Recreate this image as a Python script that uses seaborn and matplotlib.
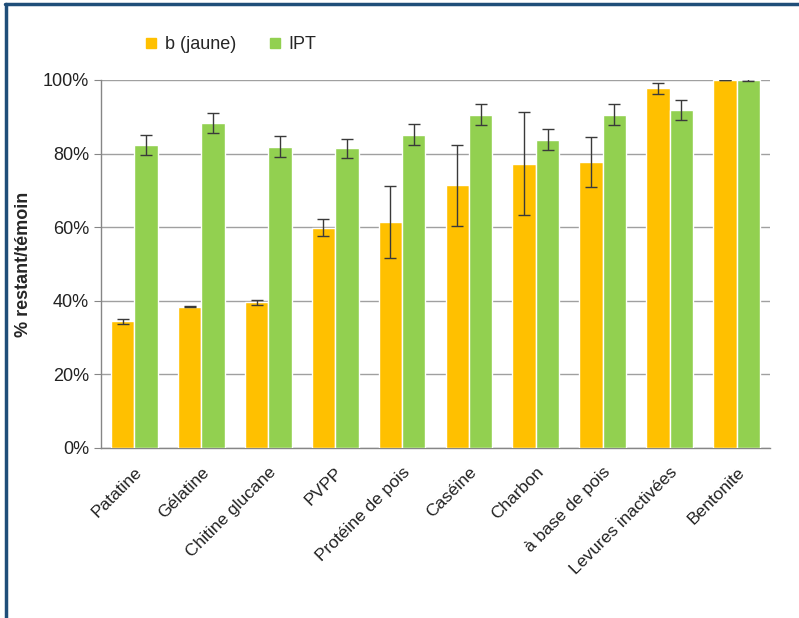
import numpy as np
import pandas as pd
import matplotlib
matplotlib.use("Agg")
import matplotlib.pyplot as plt
import seaborn as sns
from matplotlib.lines import Line2D

# données (% restant / témoin)
produits = ["Patatine", "Gélatine", "Chitine glucane", "PVPP", "Protéine de pois",
            "Caséine", "Charbon", "à base de pois", "Levures inactivées", "Bentonite"]
b_jaune = [34.4, 38.4, 39.6, 59.9, 61.3, 71.4, 77.3, 77.8, 97.7, 100.0]
b_jaune_err = [0.7, 0.2, 0.7, 2.3, 9.8, 11.0, 14.1, 6.8, 1.6, 0.0]
ipt = [82.3, 88.3, 81.9, 81.4, 85.1, 90.6, 83.8, 90.6, 91.8, 100.0]
ipt_err = [2.8, 2.8, 2.8, 2.6, 2.8, 2.8, 2.8, 2.8, 2.8, 0.3]
series = ["b (jaune)", "IPT"]
couleurs = ["#FFC000", "#92D050"]

df = pd.DataFrame({
    "produit": produits * 2,
    "serie": [series[0]] * len(produits) + [series[1]] * len(produits),
    "valeur": b_jaune + ipt,
})

sns.set_style("white")
plt.rcParams["font.family"] = ["Liberation Sans", "DejaVu Sans"]

fig = plt.figure(figsize=(7.99, 6.18), dpi=100)
ax = fig.add_axes([0.1264, 0.2751, 0.8373, 0.5955])

sns.barplot(data=df, x="produit", y="valeur", hue="serie", palette=couleurs,
            saturation=1, width=0.7, errorbar=None, edgecolor="white",
            linewidth=1, ax=ax, legend=False, zorder=3)

# barres d'erreur
for cont, err in zip(ax.containers, [b_jaune_err, ipt_err]):
    xs = [p.get_x() + p.get_width() / 2 for p in cont.patches]
    hs = [p.get_height() for p in cont.patches]
    ax.errorbar(xs, hs, yerr=err, fmt="none", ecolor="#3a3a3a",
                elinewidth=1, capsize=4, capthick=1, zorder=4)

ax.set_ylim(0, 100)
ax.set_xlim(-0.5, len(produits) - 0.5)
ax.set_yticks(np.arange(0, 101, 20))
ax.set_yticklabels([f"{v}%" for v in range(0, 101, 20)], fontsize=13, color="#222222")
ax.yaxis.grid(True, color="#a0a0a0", linewidth=1)
ax.set_axisbelow(True)

ax.set_xticks(range(len(produits)))
ax.set_xticklabels(produits, rotation=45, ha="right", rotation_mode="anchor",
                   fontsize=12.5, color="#222222")
ax.set_xticks(np.arange(-0.5, len(produits)), minor=True)
ax.tick_params(axis="x", which="major", length=0, pad=12)
ax.tick_params(axis="x", which="minor", length=5, color="#868686", direction="out")
ax.tick_params(axis="y", length=5, color="#868686", direction="out", left=True)

ax.set_xlabel("")
ax.set_ylabel("% restant/témoin", fontsize=13, fontweight="bold", labelpad=8)

for s in ["top", "right"]:
    ax.spines[s].set_visible(False)
for s in ["left", "bottom"]:
    ax.spines[s].set_color("#868686")
    ax.spines[s].set_linewidth(1)

handles = [Line2D([], [], marker="s", linestyle="", markersize=7,
                  markerfacecolor=c, markeredgecolor=c) for c in couleurs]
fig.legend(handles, series, loc="center left", bbox_to_anchor=(0.152, 0.928),
           ncol=2, frameon=False, fontsize=13, handletextpad=0.0,
           handlelength=1.5, columnspacing=1.4)

# cadre bleu (haut et gauche)
fig.add_artist(Line2D([0.006, 1.0], [0.993, 0.993], color="#1F4E79", linewidth=2.5,
                      transform=fig.transFigure))
fig.add_artist(Line2D([0.007, 0.007], [0.0, 0.993], color="#1F4E79", linewidth=2.5,
                      transform=fig.transFigure))

fig.savefig("out.png", dpi=100)
